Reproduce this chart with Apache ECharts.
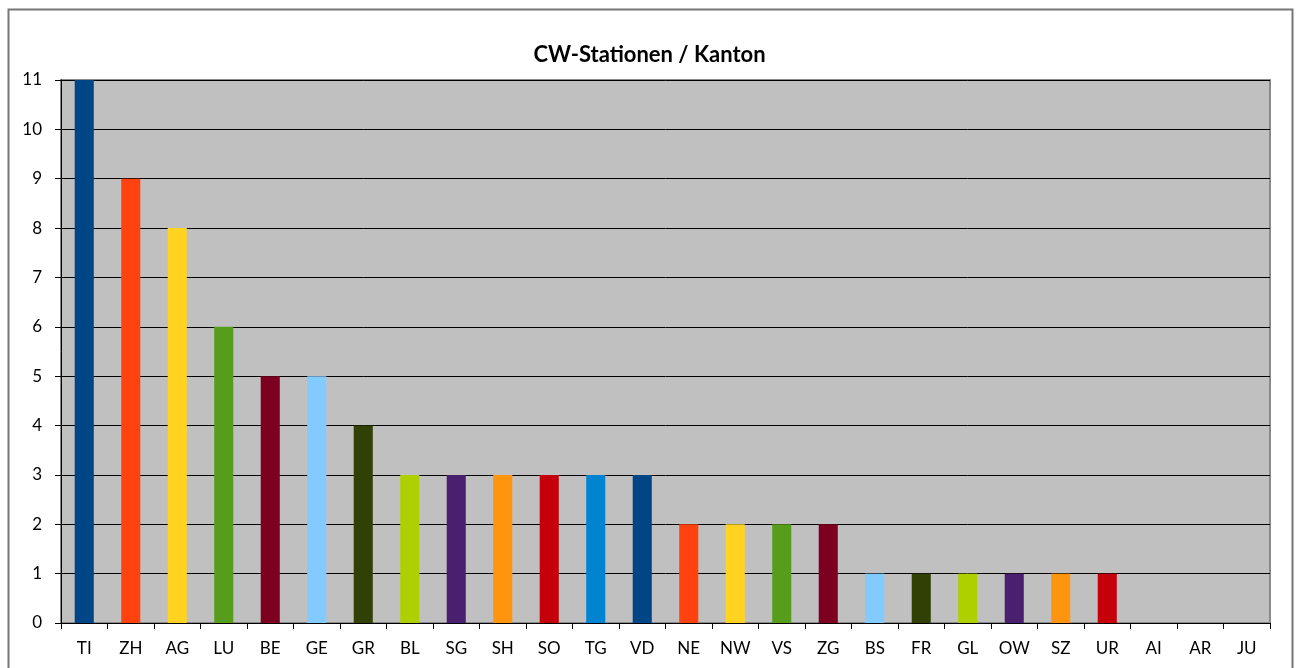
<!DOCTYPE html>
<html>
<head>
<meta charset="utf-8">
<script src="https://cdn.jsdelivr.net/npm/echarts@6/dist/echarts.min.js"></script>
<style>
html,body{margin:0;padding:0;background:#fff;}
#chart{width:1299px;height:668px;}
</style>
</head>
<body>
<div id="chart"></div>
<script>
const categories = ['TI','ZH','AG','LU','BE','GE','GR','BL','SG','SH','SO','TG','VD','NE','NW','VS','ZG','BS','FR','GL','OW','SZ','UR','AI','AR','JU'];
const values = [11,9,8,6,5,5,4,3,3,3,3,3,3,2,2,2,2,1,1,1,1,1,1,0,0,0];
const palette = ['#004586','#FF420E','#FFD320','#579D1C','#7E0021','#83CAFF','#314004','#AECF00','#4B1F6F','#FF950E','#C5000B','#0084D1'];
const titleText = 'CW-Stationen / Kanton';

const font = 'Lato, "Open Sans", sans-serif';
const chart = echarts.init(document.getElementById('chart'), null, {renderer:'canvas'});
chart.setOption({
  animation:false,
  backgroundColor:'#fff',
  title:{text:titleText,left:'center',top:39,textStyle:{fontFamily:font,fontSize:22,fontWeight:'bold',color:'#000'}},
  graphic:[{type:'rect',shape:{x:8.5,y:9.5,width:1284,height:700},style:{fill:'none',stroke:'#777',lineWidth:2},z:-1}],
  grid:{left:61,top:80,right:29,bottom:45,show:true,backgroundColor:'#C0C0C0',borderColor:'#8a8a8a',borderWidth:2},
  xAxis:{type:'category',data:categories,
    axisLine:{lineStyle:{color:'#000',width:1}},
    axisTick:{show:true,length:6,lineStyle:{color:'#000'}},
    axisLabel:{fontFamily:font,fontSize:17,color:'#000',margin:17,interval:0}},
  yAxis:{type:'value',min:0,max:11,interval:1,
    axisLine:{show:true,lineStyle:{color:'#000',width:1}},
    axisTick:{show:true,length:6,lineStyle:{color:'#000'}},
    splitLine:{lineStyle:{color:'#000',width:1}},
    axisLabel:{fontFamily:font,fontSize:17,color:'#000',margin:19}},
  series:[{type:'bar',barWidth:'41%',
    data:values.map((v,i)=>({value:v,itemStyle:{color:palette[i%palette.length]}}))}]
});
</script>
</body>
</html>
